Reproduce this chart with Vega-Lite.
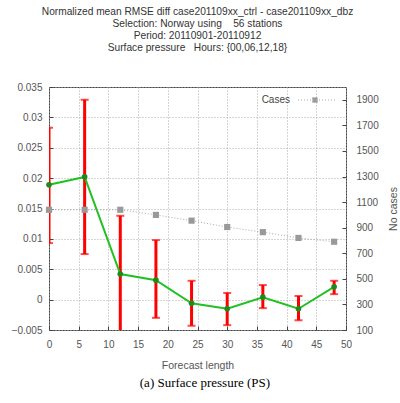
{
  "$schema": "https://vega.github.io/schema/vega-lite/v6.json",
  "background": "white",
  "padding": {"left": 10, "top": 6, "right": 0, "bottom": 0},
  "config": {
    "font": "Liberation Sans",
    "view": {"stroke": "#444", "strokeWidth": 1},
    "axis": {"labelFont": "Liberation Sans", "labelFontSize": 10, "labelColor": "#555", "titleFont": "Liberation Sans", "titleFontSize": 10.5, "titleFontWeight": "normal", "titleColor": "#555", "domain": false, "tickColor": "#444", "labelOverlap": false, "labelBound": false, "labelFlush": false}
  },
  "title": {"text": "(a) Surface pressure (PS)", "orient": "bottom", "font": "Liberation Serif", "fontSize": 13, "fontWeight": "normal", "color": "#000", "offset": 6, "anchor": "middle"},
  "vconcat": [
    {
      "width": 297,
      "height": 243,
      "title": {
        "text": ["Normalized mean RMSE diff case201109xx_ctrl - case201109xx_dbz", "Selection: Norway using \u00a0\u00a0\u00a056 stations", "Period: 20110901-20110912", "Surface pressure \u00a0\u00a0Hours: {00,06,12,18}"],
        "fontSize": 10.2, "fontWeight": "normal", "color": "#333", "lineHeight": 12, "offset": 29, "anchor": "middle", "font": "Liberation Sans"
      },
      "data": {"values": [
        {"lead": 0, "mean": 0.0189, "lo": 0.0093, "hi": 0.0283, "cases": 1040},
        {"lead": 6, "mean": 0.0202, "lo": 0.0075, "hi": 0.0329, "cases": 1040},
        {"lead": 12, "mean": 0.0042, "lo": -0.0054, "hi": 0.0138, "cases": 1040},
        {"lead": 18, "mean": 0.0032, "lo": -0.0030, "hi": 0.0098, "cases": 1000},
        {"lead": 24, "mean": -0.0006, "lo": -0.0043, "hi": 0.0031, "cases": 955},
        {"lead": 30, "mean": -0.0015, "lo": -0.0042, "hi": 0.0011, "cases": 905},
        {"lead": 36, "mean": 0.0004, "lo": -0.0014, "hi": 0.0024, "cases": 865},
        {"lead": 42, "mean": -0.0015, "lo": -0.0034, "hi": 0.0006, "cases": 820},
        {"lead": 48, "mean": 0.0021, "lo": 0.0009, "hi": 0.0031, "cases": 790}
      ]},
      "encoding": {
        "x": {"field": "lead", "type": "quantitative", "scale": {"domain": [0, 50], "nice": false},
          "axis": {"values": [0, 5, 10, 15, 20, 25, 30, 35, 40, 45, 50], "tickCount": 30, "title": "Forecast length", "grid": true, "gridDash": [1, 2], "gridColor": "#aaa", "tickSize": -4, "labelPadding": 13, "titlePadding": 11, "labelOverlap": false}}
      },
      "layer": [
        {
          "layer": [
            {
              "mark": {"type": "rule", "color": "#ff0000", "strokeWidth": 3, "clip": true},
              "encoding": {
                "y": {"field": "lo", "type": "quantitative", "scale": {"domain": [-0.005, 0.035], "nice": false, "zero": false},
                  "axis": {"values": [-0.005, 0, 0.005, 0.01, 0.015, 0.02, 0.025, 0.03, 0.035], "tickCount": 30, "format": "~g", "title": null, "grid": true, "gridDash": [1, 2], "gridColor": "#aaa", "tickSize": -4, "labelPadding": 11, "labelOverlap": false}},
                "y2": {"field": "hi"}
              }
            },
            {
              "mark": {"type": "tick", "orient": "horizontal", "color": "#ff0000", "size": 8, "thickness": 2, "clip": true},
              "encoding": {"y": {"field": "hi", "type": "quantitative"}}
            },
            {
              "mark": {"type": "tick", "orient": "horizontal", "color": "#ff0000", "size": 8, "thickness": 2, "clip": true},
              "encoding": {"y": {"field": "lo", "type": "quantitative"}}
            },
            {
              "mark": {"type": "line", "color": "#22c022", "strokeWidth": 2},
              "encoding": {"y": {"field": "mean", "type": "quantitative"}}
            },
            {
              "mark": {"type": "point", "shape": "circle", "filled": true, "color": "#1e8a1e", "size": 32, "opacity": 1},
              "encoding": {"y": {"field": "mean", "type": "quantitative"}}
            }
          ]
        },
        {
          "layer": [
            {
              "mark": {"type": "line", "color": "#aaaaaa", "strokeWidth": 1, "strokeDash": [1, 2], "zindex": 2},
              "encoding": {
                "y": {"field": "cases", "type": "quantitative", "scale": {"domain": [100, 2000], "nice": false, "zero": false},
                  "axis": {"orient": "right", "values": [100, 300, 500, 700, 900, 1100, 1300, 1500, 1700, 1900], "tickCount": 30, "format": "d", "title": "No cases", "titleAngle": 270, "grid": false, "tickSize": -4, "labelPadding": 14, "titlePadding": 20, "labelOverlap": false}}
              }
            },
            {
              "mark": {"type": "point", "shape": "square", "filled": true, "size": 38, "opacity": 1, "zindex": 3},
              "encoding": {
                "y": {"field": "cases", "type": "quantitative"},
                "color": {"datum": "Cases", "scale": {"range": ["#999999"]},
                  "legend": {"title": null, "orient": "top-right", "offset": 8, "labelFontSize": 10, "labelColor": "#444", "symbolType": "M-6.8,0H8.4M-1,-1H1V1H-1Z", "symbolSize": 25, "symbolStrokeColor": "#aaaaaa", "symbolStrokeWidth": 1, "symbolDash": [1, 2], "labelAlign": "right", "labelOffset": -30}}
              }
            }
          ]
        }
      ],
      "resolve": {"scale": {"y": "independent"}}
    }
  ]
}
